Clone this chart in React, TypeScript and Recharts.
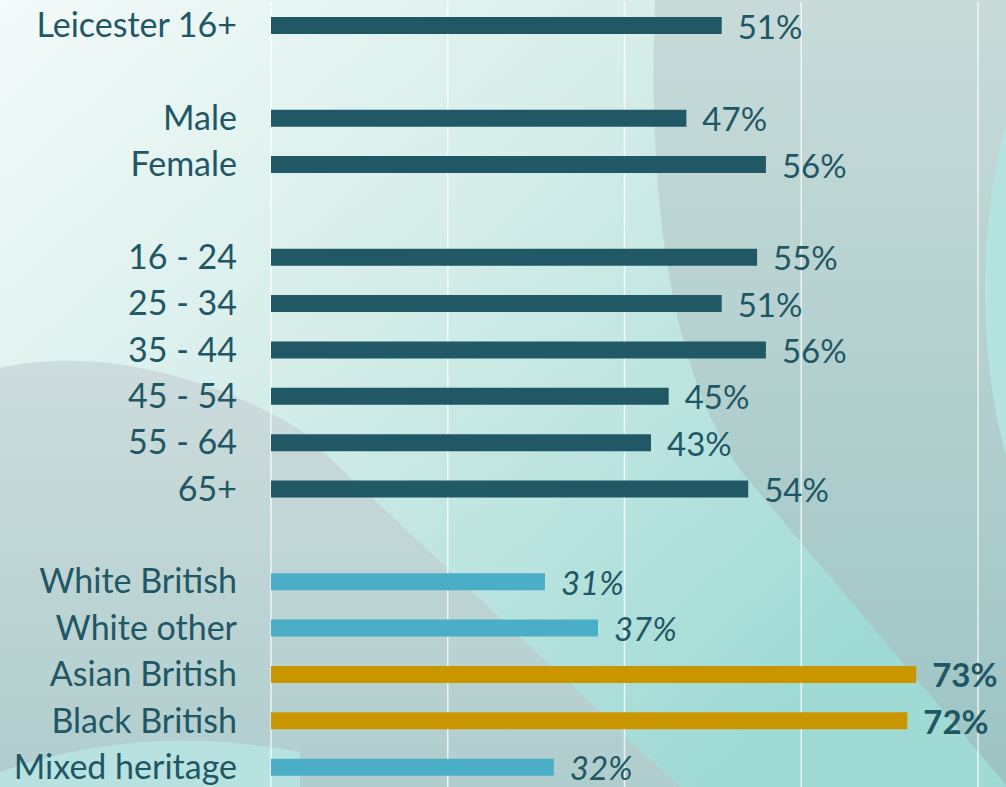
import { BarChart, Bar, XAxis, YAxis, CartesianGrid, Cell, LabelList } from 'recharts';

// rows top to bottom, empty strings are spacer rows
const categories = [
  'Leicester 16+', '', 'Male', 'Female', '',
  '16 - 24', '25 - 34', '35 - 44', '45 - 54', '55 - 64', '65+', '',
  'White British', 'White other', 'Asian British', 'Black British', 'Mixed heritage',
];
const values = [51, null, 47, 56, null, 55, 51, 56, 45, 43, 54, null, 31, 37, 73, 72, 32];
// d = dark teal, l = light blue (italic label), g = gold (bold label)
const groups = ['d', '', 'd', 'd', '', 'd', 'd', 'd', 'd', 'd', 'd', '', 'l', 'l', 'g', 'g', 'l'];
const xTicks = [0, 20, 40, 60, 80];

const COLORS: Record<string, string> = { d: '#215866', l: '#4aaec7', g: '#c99600' };
const TEXT = '#1f5765';
const FONT = 'Lato, "Open Sans", sans-serif';
const FS = 34;

const rows = categories.map((name, i) => ({
  key: String(i),
  name,
  value: values[i],
  group: groups[i],
  tag: values[i] == null ? '' : `${values[i]}|${groups[i]}`,
}));

const ValueLabel = (props: any) => {
  const { x, y, width, height, value } = props;
  if (!value) return null;
  const [v, g] = String(value).split('|');
  return (
    <text
      x={x + width + 16}
      y={y + height / 2}
      dominantBaseline="central"
      fill={TEXT}
      fontFamily={FONT}
      fontSize={FS - 1}
      fontStyle={g === 'l' ? 'italic' : 'normal'}
      fontWeight={g === 'g' ? 700 : 400}
    >
      {v}%
    </text>
  );
};

const Background = () => (
  <svg width={1006} height={787} style={{ position: 'absolute', left: 0, top: 0 }}>
    <defs>
      <linearGradient id="base" x1="0" y1="0" x2="700" y2="787" gradientUnits="userSpaceOnUse">
        <stop offset="0" stopColor="#f4fbfa" />
        <stop offset="0.45" stopColor="#d5ede9" />
        <stop offset="1" stopColor="#9fdad5" />
      </linearGradient>
      <linearGradient id="greyR" x1="0" y1="0" x2="0" y2="1">
        <stop offset="0" stopColor="#c8dbd9" />
        <stop offset="1" stopColor="#9cc4c3" />
      </linearGradient>
      <linearGradient id="greyL" x1="0" y1="0" x2="0" y2="1">
        <stop offset="0" stopColor="#cddcdc" />
        <stop offset="1" stopColor="#b0cdcd" />
      </linearGradient>
    </defs>
    <rect width={1006} height={787} fill="url(#base)" />
    <path d="M655,0 C648,180 665,360 740,470 L1006,785 L1006,0 Z" fill="url(#greyR)" />
    <ellipse cx={1085} cy={290} rx={100} ry={270} fill="#b5e3e0" />
    <path d="M0,368 C100,345 220,380 300,430 L680,787 L0,787 Z" fill="url(#greyL)" />
    <path d="M0,772 Q140,722 300,752 L300,787 L0,787 Z" fill="#b8e2df" />
  </svg>
);

export default function App() {
  return (
    <div style={{ position: 'absolute', left: 0, top: 0, width: 1006, height: 787, overflow: 'hidden' }}>
      <Background />
      <div style={{ position: 'absolute', left: 0, top: 0 }}>
        <BarChart
          width={1006}
          height={790}
          data={rows}
          layout="vertical"
          margin={{ top: 2, right: 28, bottom: 0, left: 0 }}
        >
          <CartesianGrid horizontal={false} vertical stroke="#ffffff" strokeOpacity={0.75} strokeWidth={1.5} />
          <XAxis type="number" domain={[0, 80]} ticks={xTicks} hide />
          <YAxis
            type="category"
            dataKey="key"
            width={271}
            axisLine={false}
            tickLine={false}
            tickSize={0}
            tickMargin={34}
            interval={0}
            tickFormatter={(k: string) => categories[Number(k)]}
            tick={{ fill: TEXT, fontSize: FS, fontFamily: FONT }}
          />
          <Bar dataKey="value" barSize={17} isAnimationActive={false}>
            {rows.map((r, i) => (
              <Cell key={`cell-${i}`} fill={COLORS[r.group] || 'transparent'} />
            ))}
            <LabelList dataKey="tag" content={ValueLabel} />
          </Bar>
        </BarChart>
      </div>
    </div>
  );
}
